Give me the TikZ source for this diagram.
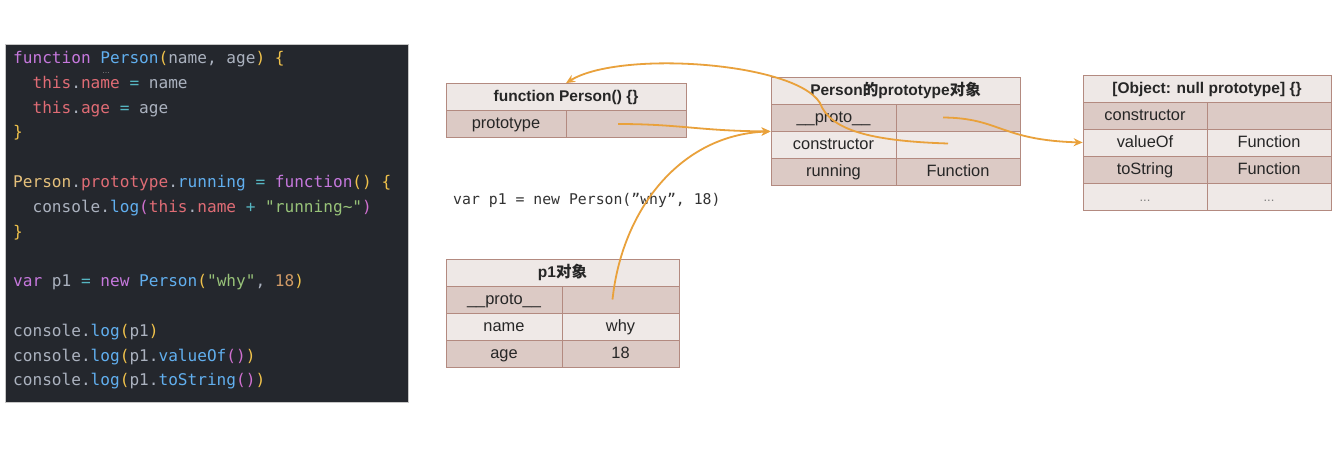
\documentclass[tikz,border=0pt]{standalone}
\usepackage{fontspec}
\setmainfont{Liberation Sans}
\newfontfamily\codefont{DejaVu Sans Mono}
\newfontfamily\cjk{Noto Sans CJK SC}
\usepackage{tikz}
\usetikzlibrary{arrows.meta, positioning, calc}

\definecolor{codebg}{HTML}{24272D}
\definecolor{codeplain}{HTML}{ABB2BF}
\definecolor{kwpurple}{HTML}{C678DD}
\definecolor{fnblue}{HTML}{61AFEF}
\definecolor{brgold}{HTML}{F0C24B}
\definecolor{brorchid}{HTML}{D070D0}
\definecolor{propred}{HTML}{E06C75}
\definecolor{opcyan}{HTML}{56B6C2}
\definecolor{strgreen}{HTML}{98C379}
\definecolor{numorange}{HTML}{D19A66}
\definecolor{clsyellow}{HTML}{E5C07B}
\definecolor{cellline}{HTML}{B38A80}
\definecolor{hdrfill}{HTML}{EEE8E6}
\definecolor{darkfill}{HTML}{DCCAC5}
\definecolor{lightfill}{HTML}{EFE9E7}
\definecolor{arrowor}{HTML}{E9A13B}
\definecolor{vartext}{HTML}{333333}

\newcommand{\cKw}[1]{\textcolor{kwpurple}{#1}}
\newcommand{\cFn}[1]{\textcolor{fnblue}{#1}}
\newcommand{\cBr}[1]{\textcolor{brgold}{#1}}
\newcommand{\cBp}[1]{\textcolor{brorchid}{#1}}
\newcommand{\cRd}[1]{\textcolor{propred}{#1}}
\newcommand{\cOp}[1]{\textcolor{opcyan}{#1}}
\newcommand{\cSt}[1]{\textcolor{strgreen}{#1}}
\newcommand{\cNm}[1]{\textcolor{numorange}{#1}}
\newcommand{\cCl}[1]{\textcolor{clsyellow}{#1}}

\tikzset{
  codeline/.style={anchor=base west, inner sep=0pt, text=codeplain, font=\codefont\fontsize{16.1}{19}\selectfont},
  cell/.style={draw=cellline, line width=0.8pt, minimum height=27pt, inner sep=0pt, text height=12pt, text depth=3pt, text=black!85, font=\fontsize{16.4}{19}\selectfont},
  hcell/.style={cell, fill=hdrfill, font=\fontsize{15.5}{18}\selectfont\bfseries},
  dcell/.style={cell, fill=darkfill},
  lcell/.style={cell, fill=lightfill},
  link/.style={draw=arrowor, line width=1.8pt, -{Stealth[length=9pt, width=8pt]}}
}

\begin{document}
\begin{tikzpicture}[x=1pt, y=-1pt]
  \fill[white] (0,0) rectangle (1339,448);
  \useasboundingbox (0,0) rectangle (1339,448);

  % Code panel
  \fill[codebg, draw=gray!45, line width=0.6pt] (5,44) rectangle (408,402);
  \node[codeline] (code1) at (13, 63.5) {\cKw{function} \cFn{Person}\cBr{(}name, age\cBr{)} \cBr{\{}};
  \node[font=\fontsize{9}{10}\selectfont, text=gray, inner sep=0pt] (hint) at (106, 73) {...};
  \node[codeline] (code2) at (13, 88.3) {\phantom{xx}\cRd{this}.\cRd{name} \cOp{=} name};
  \node[codeline] (code3) at (13, 113.1) {\phantom{xx}\cRd{this}.\cRd{age} \cOp{=} age};
  \node[codeline] (code4) at (13, 137.9) {\cBr{\}}};
  \node[codeline] (code6) at (13, 187.5) {\cCl{Person}.\cRd{prototype}.\cFn{running} \cOp{=} \cKw{function}\cBr{()} \cBr{\{}};
  \node[codeline] (code7) at (13, 212.3) {\phantom{xx}console.\cFn{log}\cBp{(}\cRd{this}.\cRd{name} \cOp{+} \cSt{"running\textasciitilde"}\cBp{)}};
  \node[codeline] (code8) at (13, 237.1) {\cBr{\}}};
  \node[codeline] (code10) at (13, 286.7) {\cKw{var} p1 \cOp{=} \cKw{new} \cFn{Person}\cBr{(}\cSt{"why"}, \cNm{18}\cBr{)}};
  \node[codeline] (code12) at (13, 336.3) {console.\cFn{log}\cBr{(}p1\cBr{)}};
  \node[codeline] (code13) at (13, 361.1) {console.\cFn{log}\cBr{(}p1.\cFn{valueOf}\cBp{()}\cBr{)}};
  \node[codeline] (code14) at (13, 385.9) {console.\cFn{log}\cBr{(}p1.\cFn{toString}\cBp{()}\cBr{)}};

  % function Person
  \node[hcell, minimum width=240pt] (fnhead) at (566, 97) {function Person() \{\}};
  \node[dcell, minimum width=120pt] (fnk1) at (506, 124) {prototype};
  \node[dcell, minimum width=120pt] (fnv1) at (626, 124) {};

  % Person prototype object
  \node[hcell, minimum width=249pt] (pthead) at (895.5, 90.5) {Person{\cjk 的}prototype{\cjk 对象}};
  \node[dcell, minimum width=125pt] (ptk1) at (833.5, 117.5) {\_\_proto\_\_};
  \node[dcell, minimum width=124pt] (ptv1) at (958, 117.5) {};
  \node[lcell, minimum width=125pt] (ptk2) at (833.5, 144.5) {constructor};
  \node[lcell, minimum width=124pt] (ptv2) at (958, 144.5) {};
  \node[dcell, minimum width=125pt] (ptk3) at (833.5, 171.5) {running};
  \node[dcell, minimum width=124pt] (ptv3) at (958, 171.5) {Function};

  % null prototype object
  \node[hcell, minimum width=248pt] (nullhead) at (1207, 88.5) {[Object: null prototype] \{\}};
  \node[dcell, minimum width=124pt] (nullk1) at (1145, 115.5) {constructor};
  \node[dcell, minimum width=124pt] (nullv1) at (1269, 115.5) {};
  \node[lcell, minimum width=124pt] (nullk2) at (1145, 142.5) {valueOf};
  \node[lcell, minimum width=124pt] (nullv2) at (1269, 142.5) {Function};
  \node[dcell, minimum width=124pt] (nullk3) at (1145, 169.5) {toString};
  \node[dcell, minimum width=124pt] (nullv3) at (1269, 169.5) {Function};
  \node[lcell, minimum width=124pt, text=gray, font=\fontsize{13}{15}\selectfont] (nullk4) at (1145, 196.5) {...};
  \node[lcell, minimum width=124pt, text=gray, font=\fontsize{13}{15}\selectfont] (nullv4) at (1269, 196.5) {...};

  % new call
  \node[anchor=base west, inner sep=0pt, text=vartext, font=\codefont\fontsize{14.8}{17}\selectfont] (newcall) at (453, 204) {var p1 = new Person(”why”, 18)};

  % p1 object
  \node[hcell, minimum width=233pt] (p1head) at (562.5, 272.5) {p1{\cjk 对象}};
  \node[dcell, minimum width=116pt] (p1k1) at (504, 299.5) {\_\_proto\_\_};
  \node[dcell, minimum width=117pt] (p1v1) at (620.5, 299.5) {};
  \node[lcell, minimum width=116pt] (p1k2) at (504, 326.5) {name};
  \node[lcell, minimum width=117pt] (p1v2) at (620.5, 326.5) {why};
  \node[dcell, minimum width=116pt] (p1k3) at (504, 353.5) {age};
  \node[dcell, minimum width=117pt] (p1v3) at (620.5, 353.5) {18};

  % Links
  \draw[link] ($(fnv1.center)+(-8,0)$) .. controls (680,124) and (700,131) .. (ptk1.south west);
  \draw[link] ($(p1v1.center)+(-8,0)$) .. controls (622,210) and (680,135) .. (ptk1.south west);
  \draw[link] ($(ptv2.center)+(-10,-1)$) .. controls (870,141) and (830,130) .. (820,103) .. controls (795,62) and (620,50) .. (fnhead.north);
  \draw[link] ($(ptv1.center)+(-15,0)$) .. controls (1000,118) and (1000,140) .. (nullk2.west);
\end{tikzpicture}
\end{document}
